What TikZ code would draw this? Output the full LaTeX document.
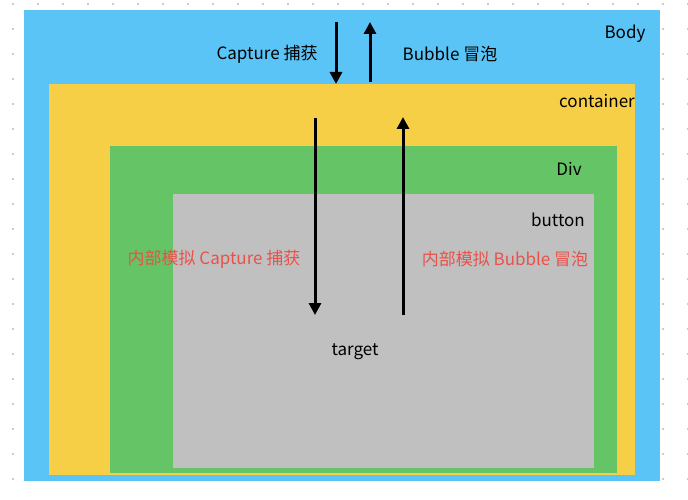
\documentclass[tikz,border=0pt]{standalone}
\usepackage{fontspec}
\setmainfont{Noto Sans CJK SC}
\usetikzlibrary{arrows.meta}
\definecolor{bodyblue}{HTML}{5AC4F6}
\definecolor{contyellow}{HTML}{F7CF46}
\definecolor{divgreen}{HTML}{64C466}
\definecolor{btngray}{HTML}{C0C0C0}
\definecolor{dotgray}{HTML}{CCCCCC}
\definecolor{redtxt}{HTML}{E8524A}
\tikzset{
  box/.style={draw=none, inner sep=0pt, anchor=north west},
  lbl/.style={font=\fontsize{17}{20}\selectfont, text=black, inner sep=0pt, yshift=-2.5pt},
  redlbl/.style={font=\fontsize{17}{20}\selectfont, text=redtxt, inner sep=0pt, yshift=-2.5pt},
  flow/.style={line width=3pt, -{Triangle[width=12pt,length=12pt]}},
}
\begin{document}
\begin{tikzpicture}[x=1pt,y=-1pt]
\useasboundingbox (0,0) rectangle (688,500);
\fill[white] (0,0) rectangle (688,500);
% dot grid
\foreach \i in {0,...,27}{
  \foreach \j in {0,...,20}{
    \fill[dotgray] ({13+25*\i-1},{4+25*\j-1}) rectangle ++(2,2);
  }
}
% nested boxes
\node[box, fill=bodyblue, minimum width=636pt, minimum height=471pt] (body) at (24,10) {};
\node[box, fill=contyellow, minimum width=586pt, minimum height=391pt] (container) at (49,84) {};
\node[box, fill=divgreen, minimum width=507pt, minimum height=327pt] (div) at (110,146) {};
\node[box, fill=btngray, minimum width=421pt, minimum height=274pt] (button) at (173,194) {};
% labels
\node[lbl] (lbody) at (625,31) {Body};
\node[lbl] (lcont) at (597,99) {container};
\node[lbl] (ldiv) at (569,166) {Div};
\node[lbl] (lbtn) at (558,217) {button};
\node[lbl] (ltarget) at (355,349) {target};
\node[lbl] (lcap) at (267,52) {Capture 捕获};
\node[lbl] (lbub) at (450,52) {Bubble 冒泡};
\node[redlbl] (rcap) at (214,257) {内部模拟 Capture 捕获};
\node[redlbl] (rbub) at (505,257) {内部模拟 Bubble 冒泡};
% arrows
\coordinate (capS) at (336,22);
\coordinate (capE) at (336,84);
\coordinate (bubS) at (370,82);
\coordinate (bubE) at (370,22);
\coordinate (icapS) at (315,118);
\coordinate (icapE) at (315,315);
\coordinate (ibubS) at (403,315);
\coordinate (ibubE) at (403,117);
\draw[flow] (capS) -- (capE);
\draw[flow] (bubS) -- (bubE);
\draw[flow] (icapS) -- (icapE);
\draw[flow] (ibubS) -- (ibubE);
\end{tikzpicture}
\end{document}
